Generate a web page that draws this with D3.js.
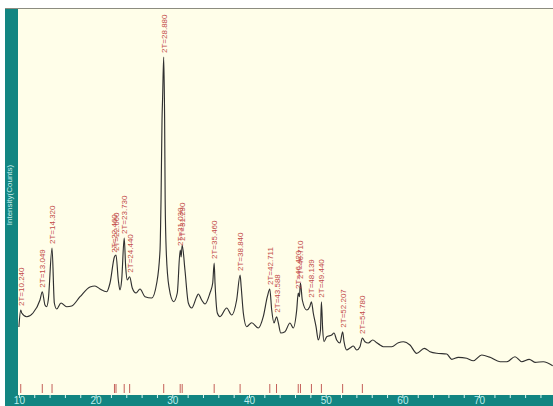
<!DOCTYPE html>
<html>
<head>
<meta charset="utf-8">
<script src="https://cdn.jsdelivr.net/npm/d3@7"></script>
<style>
  body { margin: 0; background: #fff; }
  svg { display: block; }
</style>
</head>
<body>
<svg id="main" width="553" height="406"></svg>
<script>
// 2-theta (deg) and intensity (counts)
var twoTheta = [10.0, 10.24, 10.37, 11.02, 11.84, 12.75, 13.05, 13.40, 13.62, 13.83, 14.32, 14.62, 14.93, 15.49, 16.23, 16.88,
  17.97, 19.27, 19.92, 20.57, 21.45, 21.88, 22.46, 22.66, 22.96, 23.18, 23.40, 23.73, 23.92, 24.13, 24.44, 24.78,
  25.27, 25.79, 26.44, 27.31, 27.97, 28.40, 28.53, 28.66, 28.74, 28.88, 29.00, 29.07, 29.22, 29.56, 30.17, 30.65,
  31.03, 31.15, 31.29, 31.65, 32.09, 32.53, 33.18, 33.39, 33.83, 34.26, 34.91, 35.27, 35.46, 35.57, 35.87, 36.22,
  37.09, 37.74, 38.39, 38.84, 38.98, 39.26, 39.70, 40.35, 41.21, 41.86, 42.39, 42.71, 42.96, 43.26, 43.59, 43.83,
  44.14, 44.69, 45.34, 45.77, 46.22, 46.42, 46.57, 46.71, 46.95, 47.52, 47.92, 48.14, 48.38, 48.74, 49.04, 49.32,
  49.44, 49.61, 49.78, 50.13, 50.78, 51.08, 51.43, 51.86, 52.21, 52.39, 52.74, 53.17, 53.60, 54.04, 54.47, 54.78,
  55.12, 55.55, 56.13, 56.65, 57.08, 57.51, 58.60, 59.47, 60.12, 60.99, 61.86, 62.86, 63.60, 64.47, 65.78, 66.43,
  67.29, 68.38, 69.25, 70.34, 71.43, 72.73, 73.60, 74.68, 75.56, 76.54, 77.29, 78.37, 79.60];
var counts = [680, 850, 820, 783, 820, 950, 1033, 900, 883, 950, 1470, 920, 860, 920, 883, 890,
  983, 1080, 1090, 1060, 1033, 1120, 1383, 1400, 1150, 1050, 1150, 1570, 1283, 1150, 1183, 1070,
  1020, 1060, 983, 970, 1120, 1450, 1950, 2750, 2980, 3380, 2750, 1950, 1420, 1083, 933, 1020,
  1450, 1380, 1500, 1250, 920, 870, 983, 1010, 950, 910, 1020, 1120, 1320, 1120, 820, 783,
  870, 800, 950, 1200, 1083, 820, 683, 723, 670, 783, 983, 1060, 850, 720, 783, 720,
  620, 633, 720, 670, 850, 1020, 983, 1120, 950, 850, 883, 933, 820, 683, 550, 650,
  933, 650, 533, 583, 600, 620, 550, 520, 633, 533, 450, 470, 490, 450, 483, 570,
  533, 520, 550, 523, 500, 483, 483, 523, 533, 500, 417, 467, 433, 417, 410, 357,
  377, 367, 343, 400, 377, 333, 333, 383, 333, 357, 327, 333, 293];

// labelled peaks
var peakPos = [10.240, 13.049, 14.320, 22.460, 22.660, 23.730, 24.440, 28.880, 31.030, 31.290, 35.460, 38.840,
  42.711, 43.588, 46.420, 46.710, 48.139, 49.440, 52.207, 54.780];
var peakTop = [850, 1033, 1470, 1383, 1400, 1570, 1183, 3380, 1450, 1500, 1320, 1200,
  1060, 783, 1020, 1120, 933, 933, 633, 570];
var xTicks = [10, 20, 30, 40, 50, 60, 70];

var svg = d3.select("#main");
var W = 553, H = 406;
var x = d3.scaleLinear().domain([10, 80]).range([18.9, 555.8]);
var y = d3.scaleLinear().domain([0, 3870]).range([395, 8]);

// plot background
svg.append("rect").attr("x", 5).attr("y", 8).attr("width", W - 5).attr("height", 387).attr("fill", "#fffee9");
svg.append("line").attr("x1", 5).attr("x2", W).attr("y1", 8.5).attr("y2", 8.5)
  .attr("stroke", "#8c8c80").attr("stroke-width", 1.2);

// left bar
svg.append("rect").attr("x", 5).attr("y", 9).attr("width", 13).attr("height", H - 9).attr("fill", "#128581");
svg.append("text").attr("transform", "translate(12,195) rotate(-90)")
  .attr("text-anchor", "middle").attr("font-family", "Liberation Sans, Arial, sans-serif")
  .attr("font-size", 8).attr("fill", "#c9eeee").text("Intensity(Counts)");

// bottom strip
svg.append("rect").attr("x", 5).attr("y", 395).attr("width", W - 5).attr("height", 11).attr("fill", "#128581");

var xAxis = d3.axisBottom(x).tickValues(d3.range(10, 81, 2)).tickSizeInner(3).tickSizeOuter(0)
  .tickFormat(function(d) { return xTicks.indexOf(d) >= 0 ? d : ""; });
var gx = svg.append("g").attr("transform", "translate(0,395)").call(xAxis);
gx.select(".domain").remove();
gx.selectAll(".tick line").attr("stroke", "#d8f4f2").attr("stroke-width", 1);
gx.selectAll(".tick text").attr("y", 1.5).attr("fill", "#bfeeee")
  .attr("font-family", "Liberation Sans, Arial, sans-serif").attr("font-size", 10);

// peak markers at the bottom
svg.append("g").selectAll("line").data(peakPos).join("line")
  .attr("x1", function(d) { return x(d); }).attr("x2", function(d) { return x(d); })
  .attr("y1", 384).attr("y2", 393).attr("stroke", "#c4605a").attr("stroke-width", 1);

// pattern
var pts = twoTheta.map(function(t, i) { return [t, counts[i]]; });
var line = d3.line().x(function(d) { return x(d[0]); }).y(function(d) { return y(d[1]); })
  .curve(d3.curveMonotoneX);
svg.append("path").datum(pts).attr("d", line).attr("fill", "none")
  .attr("stroke", "#303030").attr("stroke-width", 1.15);

// peak labels
svg.append("g").selectAll("text").data(peakPos).join("text")
  .attr("transform", function(d, i) {
    return "translate(" + (x(d) + 3) + "," + (y(peakTop[i]) - 4) + ") rotate(-90)";
  })
  .attr("font-family", "Liberation Sans, Arial, sans-serif").attr("font-size", 8)
  .attr("fill", "#c24a48")
  .text(function(d) { return "2T=" + d.toFixed(3); });
</script>
</body>
</html>
